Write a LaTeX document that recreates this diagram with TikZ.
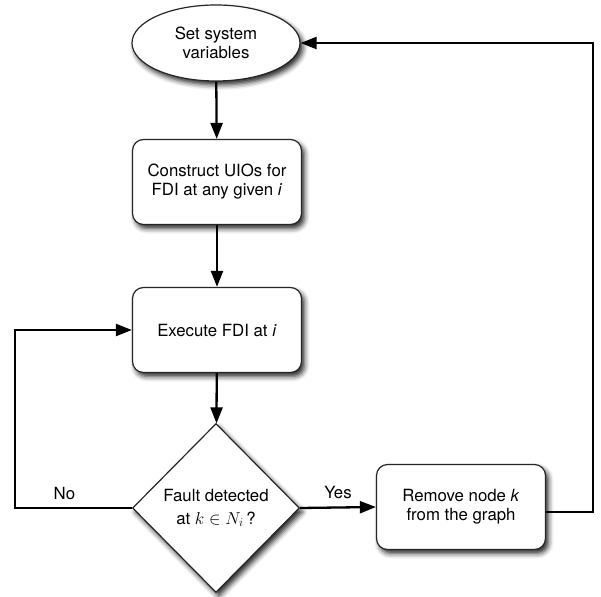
\documentclass[tikz,border=0pt]{standalone}
\usepackage{fontspec}
\setmainfont{TeX Gyre Heros}
\usepackage{tikz}
\usetikzlibrary{positioning, arrows.meta, shapes.geometric, shadows.blur}

\begin{document}
\begin{tikzpicture}[
        x=1pt, y=-1pt,
        font=\fontsize{16.8}{19}\selectfont,
        shade/.style={blur shadow={shadow xshift=3pt, shadow yshift=-4pt, shadow blur radius=5pt, shadow opacity=85}},
        terminal/.style={ellipse, draw=black!85, line width=1.2pt, fill=white, shade, minimum width=168pt, minimum height=76pt, inner sep=0pt, align=center},
        process/.style={rectangle, rounded corners=11pt, draw=black!85, line width=1.2pt, fill=white, shade, minimum width=169pt, minimum height=85pt, inner sep=0pt, align=center},
        decision/.style={diamond, draw=black!85, line width=1.2pt, fill=white, shade, minimum width=167pt, minimum height=169pt, inner sep=0pt, align=center, font=\fontsize{16.8}{21}\selectfont},
        flow/.style={line width=2.3pt, -{Triangle[length=16pt, width=12pt]}},
    ]

    \useasboundingbox (0,0) rectangle (601,596);

    % === MAIN COLUMN ===
    \node[terminal] (setvars) at (216, 43) {Set system\\variables};
    \node[process] (construct) at (217, 182) {Construct UIOs for\\FDI at any given \textit{i}};
    \node[process] (execute) at (217, 330) {Execute FDI at \textit{i}};
    \node[decision] (fault) at (216, 508) {Fault detected\\[2pt]at $k \in N_i$\,?};

    % === SIDE BRANCH ===
    \node[process] (remove) at (461, 507) {Remove node \textit{k}\\from the graph};

    % Flow edges
    \draw[flow] (setvars) -- (construct);
    \draw[flow] (construct) -- (execute);
    \draw[flow] (execute) -- (fault);
    \draw[flow] (fault.east) -- (remove.west) node[midway, above=4pt] {Yes};

    % Loops back
    \draw[flow] (fault.west) -- ++(-117,0) node[midway, above=4pt, xshift=-9pt] {No} |- (execute.west);
    \draw[flow] ([yshift=-5pt]remove.east) -- ++(47,0) |- (setvars.east);

    \end{tikzpicture}
\end{document}
